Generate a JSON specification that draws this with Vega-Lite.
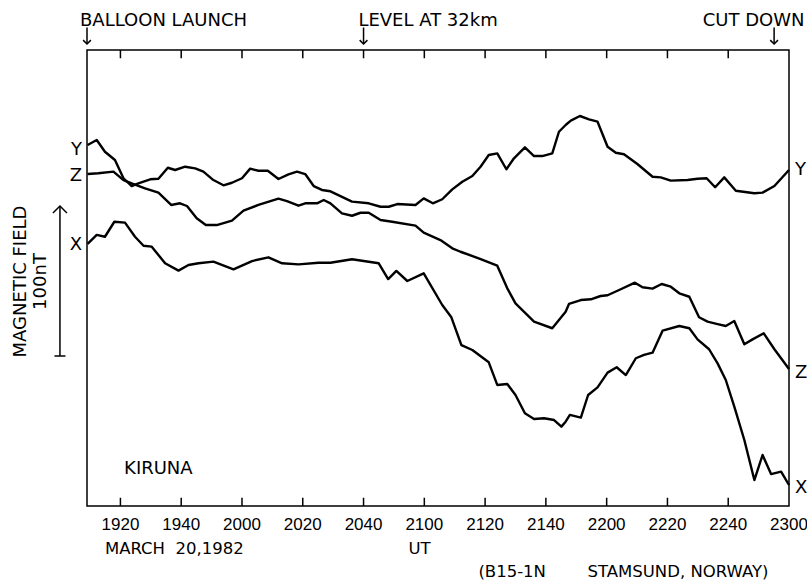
{
  "$schema": "https://vega.github.io/schema/vega-lite/v6.json",
  "width": 702,
  "height": 456,
  "autosize": {"type": "none"},
  "padding": {"left": 87, "top": 50, "right": 18, "bottom": 77},
  "background": "white",
  "config": {
    "font": "DejaVu Sans",
    "view": {"stroke": "black", "strokeWidth": 1.5},
    "text": {"font": "DejaVu Sans", "color": "black"}
  },
  "datasets": {
    "lines": [
      {"series": "Y", "ut_min": 9.2, "nT": 240.7}, {"series": "Y", "ut_min": 12.2, "nT": 244.0}, {"series": "Y", "ut_min": 14.9, "nT": 236.2}, {"series": "Y", "ut_min": 18.2, "nT": 230.7}, {"series": "Y", "ut_min": 21.0, "nT": 218.5}, {"series": "Y", "ut_min": 23.7, "nT": 213.3}, {"series": "Y", "ut_min": 25.9, "nT": 215.1}, {"series": "Y", "ut_min": 29.8, "nT": 217.8}, {"series": "Y", "ut_min": 32.5, "nT": 218.2}, {"series": "Y", "ut_min": 35.6, "nT": 225.5}, {"series": "Y", "ut_min": 38.0, "nT": 224.0}, {"series": "Y", "ut_min": 41.3, "nT": 226.2}, {"series": "Y", "ut_min": 44.6, "nT": 225.1}, {"series": "Y", "ut_min": 47.3, "nT": 222.9}, {"series": "Y", "ut_min": 50.6, "nT": 217.3}, {"series": "Y", "ut_min": 53.9, "nT": 213.8}, {"series": "Y", "ut_min": 56.7, "nT": 215.5}, {"series": "Y", "ut_min": 60.0, "nT": 218.5}, {"series": "Y", "ut_min": 62.7, "nT": 224.9}, {"series": "Y", "ut_min": 65.4, "nT": 223.5}, {"series": "Y", "ut_min": 68.5, "nT": 223.5}, {"series": "Y", "ut_min": 72.0, "nT": 218.0}, {"series": "Y", "ut_min": 75.3, "nT": 221.1}, {"series": "Y", "ut_min": 78.1, "nT": 222.9}, {"series": "Y", "ut_min": 80.8, "nT": 221.3}, {"series": "Y", "ut_min": 83.6, "nT": 213.3}, {"series": "Y", "ut_min": 86.3, "nT": 210.7}, {"series": "Y", "ut_min": 89.1, "nT": 209.8}, {"series": "Y", "ut_min": 96.2, "nT": 202.9}, {"series": "Y", "ut_min": 101.7, "nT": 201.8}, {"series": "Y", "ut_min": 105.6, "nT": 199.5}, {"series": "Y", "ut_min": 108.3, "nT": 199.5}, {"series": "Y", "ut_min": 111.1, "nT": 201.3}, {"series": "Y", "ut_min": 117.1, "nT": 200.7}, {"series": "Y", "ut_min": 119.8, "nT": 205.1}, {"series": "Y", "ut_min": 122.8, "nT": 201.8}, {"series": "Y", "ut_min": 125.9, "nT": 204.5}, {"series": "Y", "ut_min": 129.2, "nT": 211.1}, {"series": "Y", "ut_min": 132.5, "nT": 216.2}, {"series": "Y", "ut_min": 135.8, "nT": 220.0}, {"series": "Y", "ut_min": 138.5, "nT": 226.2}, {"series": "Y", "ut_min": 141.2, "nT": 234.0}, {"series": "Y", "ut_min": 144.0, "nT": 235.1}, {"series": "Y", "ut_min": 147.0, "nT": 224.5}, {"series": "Y", "ut_min": 149.5, "nT": 231.8}, {"series": "Y", "ut_min": 153.1, "nT": 239.1}, {"series": "Y", "ut_min": 156.1, "nT": 233.3}, {"series": "Y", "ut_min": 158.8, "nT": 233.3}, {"series": "Y", "ut_min": 162.1, "nT": 235.1}, {"series": "Y", "ut_min": 164.3, "nT": 249.5}, {"series": "Y", "ut_min": 166.5, "nT": 254.0}, {"series": "Y", "ut_min": 168.2, "nT": 256.9}, {"series": "Y", "ut_min": 171.2, "nT": 260.0}, {"series": "Y", "ut_min": 174.2, "nT": 257.8}, {"series": "Y", "ut_min": 177.0, "nT": 256.2}, {"series": "Y", "ut_min": 180.3, "nT": 239.5}, {"series": "Y", "ut_min": 183.0, "nT": 235.5}, {"series": "Y", "ut_min": 185.7, "nT": 234.5}, {"series": "Y", "ut_min": 190.1, "nT": 228.0}, {"series": "Y", "ut_min": 195.1, "nT": 219.5}, {"series": "Y", "ut_min": 197.8, "nT": 219.1}, {"series": "Y", "ut_min": 201.1, "nT": 216.9}, {"series": "Y", "ut_min": 206.6, "nT": 217.3}, {"series": "Y", "ut_min": 209.9, "nT": 218.2}, {"series": "Y", "ut_min": 212.9, "nT": 218.5}, {"series": "Y", "ut_min": 215.7, "nT": 212.5}, {"series": "Y", "ut_min": 218.7, "nT": 219.1}, {"series": "Y", "ut_min": 222.5, "nT": 210.2}, {"series": "Y", "ut_min": 228.6, "nT": 208.5}, {"series": "Y", "ut_min": 231.3, "nT": 208.9}, {"series": "Y", "ut_min": 235.2, "nT": 213.3}, {"series": "Y", "ut_min": 240.0, "nT": 224.0},
      {"series": "Z", "ut_min": 9.2, "nT": 221.3}, {"series": "Z", "ut_min": 12.7, "nT": 221.8}, {"series": "Z", "ut_min": 17.7, "nT": 222.9}, {"series": "Z", "ut_min": 21.0, "nT": 217.3}, {"series": "Z", "ut_min": 23.7, "nT": 215.1}, {"series": "Z", "ut_min": 28.1, "nT": 211.8}, {"series": "Z", "ut_min": 32.5, "nT": 208.9}, {"series": "Z", "ut_min": 36.7, "nT": 200.7}, {"series": "Z", "ut_min": 39.6, "nT": 201.8}, {"series": "Z", "ut_min": 41.9, "nT": 200.0}, {"series": "Z", "ut_min": 45.1, "nT": 191.8}, {"series": "Z", "ut_min": 48.1, "nT": 187.3}, {"series": "Z", "ut_min": 51.7, "nT": 187.3}, {"series": "Z", "ut_min": 56.7, "nT": 190.2}, {"series": "Z", "ut_min": 60.5, "nT": 196.9}, {"series": "Z", "ut_min": 65.4, "nT": 200.7}, {"series": "Z", "ut_min": 72.0, "nT": 204.9}, {"series": "Z", "ut_min": 74.8, "nT": 203.3}, {"series": "Z", "ut_min": 78.6, "nT": 200.2}, {"series": "Z", "ut_min": 80.8, "nT": 201.8}, {"series": "Z", "ut_min": 84.7, "nT": 201.8}, {"series": "Z", "ut_min": 86.9, "nT": 204.0}, {"series": "Z", "ut_min": 89.1, "nT": 201.8}, {"series": "Z", "ut_min": 92.9, "nT": 195.1}, {"series": "Z", "ut_min": 96.2, "nT": 193.5}, {"series": "Z", "ut_min": 99.0, "nT": 195.5}, {"series": "Z", "ut_min": 101.7, "nT": 195.5}, {"series": "Z", "ut_min": 105.6, "nT": 190.7}, {"series": "Z", "ut_min": 109.4, "nT": 189.5}, {"series": "Z", "ut_min": 117.1, "nT": 186.9}, {"series": "Z", "ut_min": 119.8, "nT": 182.2}, {"series": "Z", "ut_min": 125.3, "nT": 177.3}, {"series": "Z", "ut_min": 129.2, "nT": 171.8}, {"series": "Z", "ut_min": 131.9, "nT": 169.5}, {"series": "Z", "ut_min": 137.9, "nT": 165.1}, {"series": "Z", "ut_min": 144.0, "nT": 160.2}, {"series": "Z", "ut_min": 147.3, "nT": 145.1}, {"series": "Z", "ut_min": 150.0, "nT": 135.1}, {"series": "Z", "ut_min": 156.1, "nT": 122.9}, {"series": "Z", "ut_min": 162.1, "nT": 118.5}, {"series": "Z", "ut_min": 166.5, "nT": 129.5}, {"series": "Z", "ut_min": 167.6, "nT": 134.7}, {"series": "Z", "ut_min": 171.5, "nT": 137.3}, {"series": "Z", "ut_min": 174.8, "nT": 137.8}, {"series": "Z", "ut_min": 178.0, "nT": 140.0}, {"series": "Z", "ut_min": 180.3, "nT": 140.5}, {"series": "Z", "ut_min": 184.1, "nT": 144.0}, {"series": "Z", "ut_min": 189.3, "nT": 148.9}, {"series": "Z", "ut_min": 191.8, "nT": 145.8}, {"series": "Z", "ut_min": 195.1, "nT": 144.9}, {"series": "Z", "ut_min": 198.1, "nT": 148.0}, {"series": "Z", "ut_min": 201.1, "nT": 146.2}, {"series": "Z", "ut_min": 203.9, "nT": 141.8}, {"series": "Z", "ut_min": 207.2, "nT": 139.5}, {"series": "Z", "ut_min": 210.4, "nT": 125.8}, {"series": "Z", "ut_min": 213.2, "nT": 122.9}, {"series": "Z", "ut_min": 216.5, "nT": 121.3}, {"series": "Z", "ut_min": 219.2, "nT": 120.0}, {"series": "Z", "ut_min": 222.0, "nT": 123.3}, {"series": "Z", "ut_min": 225.3, "nT": 107.8}, {"series": "Z", "ut_min": 228.0, "nT": 111.1}, {"series": "Z", "ut_min": 231.7, "nT": 115.1}, {"series": "Z", "ut_min": 235.2, "nT": 104.5}, {"series": "Z", "ut_min": 240.0, "nT": 91.3},
      {"series": "X", "ut_min": 9.2, "nT": 174.7}, {"series": "X", "ut_min": 12.2, "nT": 180.7}, {"series": "X", "ut_min": 14.9, "nT": 179.5}, {"series": "X", "ut_min": 18.0, "nT": 189.5}, {"series": "X", "ut_min": 21.5, "nT": 188.9}, {"series": "X", "ut_min": 24.8, "nT": 179.5}, {"series": "X", "ut_min": 27.6, "nT": 173.5}, {"series": "X", "ut_min": 30.3, "nT": 172.9}, {"series": "X", "ut_min": 34.7, "nT": 161.8}, {"series": "X", "ut_min": 39.1, "nT": 156.9}, {"series": "X", "ut_min": 42.4, "nT": 160.7}, {"series": "X", "ut_min": 45.7, "nT": 161.8}, {"series": "X", "ut_min": 50.6, "nT": 162.9}, {"series": "X", "ut_min": 57.2, "nT": 157.8}, {"series": "X", "ut_min": 63.3, "nT": 163.3}, {"series": "X", "ut_min": 68.7, "nT": 165.8}, {"series": "X", "ut_min": 73.2, "nT": 161.8}, {"series": "X", "ut_min": 78.6, "nT": 161.1}, {"series": "X", "ut_min": 85.2, "nT": 162.2}, {"series": "X", "ut_min": 89.1, "nT": 162.2}, {"series": "X", "ut_min": 96.2, "nT": 164.5}, {"series": "X", "ut_min": 105.0, "nT": 161.8}, {"series": "X", "ut_min": 108.1, "nT": 151.3}, {"series": "X", "ut_min": 110.8, "nT": 156.7}, {"series": "X", "ut_min": 114.4, "nT": 150.0}, {"series": "X", "ut_min": 119.8, "nT": 155.1}, {"series": "X", "ut_min": 125.9, "nT": 134.0}, {"series": "X", "ut_min": 128.9, "nT": 125.8}, {"series": "X", "ut_min": 132.2, "nT": 107.3}, {"series": "X", "ut_min": 135.8, "nT": 104.0}, {"series": "X", "ut_min": 141.2, "nT": 95.8}, {"series": "X", "ut_min": 144.0, "nT": 80.7}, {"series": "X", "ut_min": 147.3, "nT": 81.3}, {"series": "X", "ut_min": 150.0, "nT": 74.0}, {"series": "X", "ut_min": 153.1, "nT": 61.8}, {"series": "X", "ut_min": 156.1, "nT": 58.0}, {"series": "X", "ut_min": 159.4, "nT": 58.5}, {"series": "X", "ut_min": 162.7, "nT": 57.3}, {"series": "X", "ut_min": 165.1, "nT": 52.9}, {"series": "X", "ut_min": 166.5, "nT": 56.2}, {"series": "X", "ut_min": 167.9, "nT": 60.7}, {"series": "X", "ut_min": 171.5, "nT": 58.9}, {"series": "X", "ut_min": 173.9, "nT": 74.0}, {"series": "X", "ut_min": 177.0, "nT": 79.1}, {"series": "X", "ut_min": 180.3, "nT": 88.9}, {"series": "X", "ut_min": 183.3, "nT": 92.5}, {"series": "X", "ut_min": 186.3, "nT": 87.3}, {"series": "X", "ut_min": 189.6, "nT": 98.5}, {"series": "X", "ut_min": 192.3, "nT": 100.7}, {"series": "X", "ut_min": 195.1, "nT": 102.2}, {"series": "X", "ut_min": 198.4, "nT": 116.9}, {"series": "X", "ut_min": 203.9, "nT": 120.0}, {"series": "X", "ut_min": 207.2, "nT": 118.5}, {"series": "X", "ut_min": 209.9, "nT": 111.1}, {"series": "X", "ut_min": 213.7, "nT": 104.5}, {"series": "X", "ut_min": 216.5, "nT": 95.1}, {"series": "X", "ut_min": 219.2, "nT": 84.0}, {"series": "X", "ut_min": 222.0, "nT": 66.2}, {"series": "X", "ut_min": 225.3, "nT": 44.0}, {"series": "X", "ut_min": 228.6, "nT": 17.3}, {"series": "X", "ut_min": 231.3, "nT": 34.0}, {"series": "X", "ut_min": 234.1, "nT": 21.3}, {"series": "X", "ut_min": 237.4, "nT": 22.9}, {"series": "X", "ut_min": 240.0, "nT": 14.0}
    ],
    "timeTicks": [
      {"ut_min": 20}, {"ut_min": 40}, {"ut_min": 60}, {"ut_min": 80}, {"ut_min": 100}, {"ut_min": 120},
      {"ut_min": 140}, {"ut_min": 160}, {"ut_min": 180}, {"ut_min": 200}, {"ut_min": 220}
    ],
    "timeLabels": [
      {"ut_min": 20, "label": "1920"}, {"ut_min": 40, "label": "1940"}, {"ut_min": 60, "label": "2000"},
      {"ut_min": 80, "label": "2020"}, {"ut_min": 100, "label": "2040"}, {"ut_min": 120, "label": "2100"},
      {"ut_min": 140, "label": "2120"}, {"ut_min": 160, "label": "2140"}, {"ut_min": 180, "label": "2200"},
      {"ut_min": 200, "label": "2220"}, {"ut_min": 220, "label": "2240"}, {"ut_min": 240, "label": "2300"}
    ],
    "events": [
      {"event": "BALLOON LAUNCH", "ut_min": 9},
      {"event": "LEVEL AT 32km", "ut_min": 100},
      {"event": "CUT DOWN", "ut_min": 235.1}
    ],
    "scaleBar": [
      {"label": "100 nT", "ut_min": 0.1, "from_nT": 100, "to_nT": 200}
    ],
    "topNotes": [
      {"text": "BALLOON LAUNCH", "ut_min": 6.7, "nT": 320},
      {"text": "LEVEL AT 32km", "ut_min": 98.3, "nT": 320},
      {"text": "CUT DOWN", "ut_min": 211.6, "nT": 320},
      {"text": "KIRUNA", "ut_min": 21.2, "nT": 21.3}
    ],
    "bottomNotes": [
      {"text": "MARCH\u00a0\u00a020,1982", "ut_min": 14.9, "nT": -32},
      {"text": "UT", "ut_min": 114.8, "nT": -32},
      {"text": "(B15-1N", "ut_min": 137.8, "nT": -47.3},
      {"text": "STAMSUND, NORWAY)", "ut_min": 173.7, "nT": -47.3}
    ],
    "leftLabels": [
      {"label": "Y", "ut_min": 9, "nT": 237.3},
      {"label": "Z", "ut_min": 9, "nT": 220.2},
      {"label": "X", "ut_min": 9, "nT": 174}
    ],
    "rightLabels": [
      {"label": "Y", "ut_min": 240, "nT": 224},
      {"label": "Z", "ut_min": 240, "nT": 88.7},
      {"label": "X", "ut_min": 240, "nT": 12}
    ]
  },
  "layer": [
    {
      "data": {"name": "lines"},
      "mark": {"type": "line", "color": "black", "strokeWidth": 2.4, "strokeJoin": "round"},
      "encoding": {
        "x": {
          "field": "ut_min", "type": "quantitative",
          "scale": {"domain": [9, 240], "nice": false, "zero": false},
          "axis": null
        },
        "y": {
          "field": "nT", "type": "quantitative",
          "scale": {"domain": [0, 304], "nice": false, "zero": false},
          "axis": {
            "title": ["MAGNETIC FIELD", "100nT"],
            "labels": false, "ticks": false, "domain": false, "grid": false,
            "titleFontSize": 18, "titleFontWeight": "normal", "titleColor": "black",
            "titleFont": "DejaVu Sans",
            "titleX": -67, "titleY": 231, "titleBaseline": "middle",
            "titleAlign": "center", "titleAngle": 270, "titleLineHeight": 20
          }
        },
        "detail": {"field": "series"}
      }
    },
    {
      "data": {"name": "timeTicks"},
      "mark": {"type": "rule", "color": "black", "strokeWidth": 1.5},
      "encoding": {
        "x": {"field": "ut_min", "type": "quantitative", "scale": {"domain": [9, 240], "nice": false, "zero": false}, "axis": null},
        "y": {"datum": 0.01, "scale": {"domain": [0, 304], "nice": false, "zero": false}},
        "y2": {"datum": 5.5}
      }
    },
    {
      "data": {"name": "timeTicks"},
      "mark": {"type": "rule", "color": "black", "strokeWidth": 1.5},
      "encoding": {
        "x": {"field": "ut_min", "type": "quantitative", "scale": {"domain": [9, 240], "nice": false, "zero": false}, "axis": null},
        "y": {"datum": 304, "scale": {"domain": [0, 304], "nice": false, "zero": false}},
        "y2": {"datum": 298.5}
      }
    },
    {
      "data": {"name": "timeLabels"},
      "mark": {"type": "text", "align": "center", "baseline": "top", "fontSize": 17, "font": "Liberation Sans", "color": "black"},
      "encoding": {
        "x": {"field": "ut_min", "type": "quantitative", "scale": {"domain": [9, 240], "nice": false, "zero": false}, "axis": null},
        "y": {"datum": -7.3, "scale": {"domain": [0, 304], "nice": false, "zero": false}},
        "text": {"field": "label"}
      }
    },
    {
      "data": {"name": "events"},
      "mark": {"type": "rule", "color": "black", "strokeWidth": 1.5},
      "encoding": {
        "x": {"field": "ut_min", "type": "quantitative", "scale": {"domain": [9, 240], "nice": false, "zero": false}, "axis": null},
        "y": {"datum": 319, "scale": {"domain": [0, 304], "nice": false, "zero": false}},
        "y2": {"datum": 308}
      }
    },
    {
      "data": {"name": "events"},
      "mark": {"type": "point", "shape": "M-1,-1L0,0L1,-1", "filled": false, "color": "black", "strokeWidth": 1.5, "size": 60, "opacity": 1},
      "encoding": {
        "x": {"field": "ut_min", "type": "quantitative", "scale": {"domain": [9, 240], "nice": false, "zero": false}, "axis": null},
        "y": {"datum": 308, "scale": {"domain": [0, 304], "nice": false, "zero": false}}
      }
    },
    {
      "data": {"name": "scaleBar"},
      "mark": {"type": "rule", "color": "black", "strokeWidth": 1.5},
      "encoding": {
        "x": {"field": "ut_min", "type": "quantitative", "scale": {"domain": [9, 240], "nice": false, "zero": false}, "axis": null},
        "y": {"field": "from_nT", "type": "quantitative", "scale": {"domain": [0, 304], "nice": false, "zero": false}},
        "y2": {"field": "to_nT"}
      }
    },
    {
      "data": {"name": "scaleBar"},
      "mark": {"type": "point", "shape": "M-1,1L0,0L1,1", "filled": false, "color": "black", "strokeWidth": 1.5, "size": 196, "opacity": 1},
      "encoding": {
        "x": {"field": "ut_min", "type": "quantitative", "scale": {"domain": [9, 240], "nice": false, "zero": false}, "axis": null},
        "y": {"field": "to_nT", "type": "quantitative", "scale": {"domain": [0, 304], "nice": false, "zero": false}}
      }
    },
    {
      "data": {"name": "scaleBar"},
      "mark": {"type": "point", "shape": "M-1,0L1,0", "filled": false, "color": "black", "strokeWidth": 1.5, "size": 121, "opacity": 1},
      "encoding": {
        "x": {"field": "ut_min", "type": "quantitative", "scale": {"domain": [9, 240], "nice": false, "zero": false}, "axis": null},
        "y": {"field": "from_nT", "type": "quantitative", "scale": {"domain": [0, 304], "nice": false, "zero": false}}
      }
    },
    {
      "data": {"name": "topNotes"},
      "mark": {"type": "text", "align": "left", "baseline": "alphabetic", "fontSize": 18, "color": "black"},
      "encoding": {
        "x": {"field": "ut_min", "type": "quantitative", "scale": {"domain": [9, 240], "nice": false, "zero": false}, "axis": null},
        "y": {"field": "nT", "type": "quantitative", "scale": {"domain": [0, 304], "nice": false, "zero": false}},
        "text": {"field": "text"}
      }
    },
    {
      "data": {"name": "bottomNotes"},
      "mark": {"type": "text", "align": "left", "baseline": "alphabetic", "fontSize": 16.5, "color": "black"},
      "encoding": {
        "x": {"field": "ut_min", "type": "quantitative", "scale": {"domain": [9, 240], "nice": false, "zero": false}, "axis": null},
        "y": {"field": "nT", "type": "quantitative", "scale": {"domain": [0, 304], "nice": false, "zero": false}},
        "text": {"field": "text"}
      }
    },
    {
      "data": {"name": "leftLabels"},
      "mark": {"type": "text", "align": "right", "baseline": "middle", "fontSize": 18, "dx": -5, "color": "black"},
      "encoding": {
        "x": {"field": "ut_min", "type": "quantitative", "scale": {"domain": [9, 240], "nice": false, "zero": false}, "axis": null},
        "y": {"field": "nT", "type": "quantitative", "scale": {"domain": [0, 304], "nice": false, "zero": false}},
        "text": {"field": "label"}
      }
    },
    {
      "data": {"name": "rightLabels"},
      "mark": {"type": "text", "align": "left", "baseline": "middle", "fontSize": 18, "dx": 6, "color": "black"},
      "encoding": {
        "x": {"field": "ut_min", "type": "quantitative", "scale": {"domain": [9, 240], "nice": false, "zero": false}, "axis": null},
        "y": {"field": "nT", "type": "quantitative", "scale": {"domain": [0, 304], "nice": false, "zero": false}},
        "text": {"field": "label"}
      }
    }
  ]
}
